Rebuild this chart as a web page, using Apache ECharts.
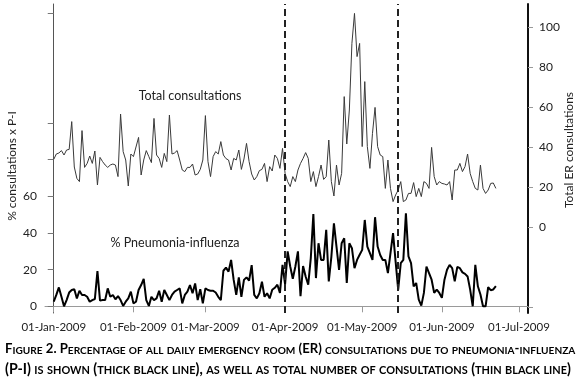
<!DOCTYPE html>
<html>
<head>
<meta charset="utf-8">
<script src="https://cdn.jsdelivr.net/npm/echarts@6/dist/echarts.min.js"></script>
<style>
  html, body { margin: 0; padding: 0; background: #fff; }
  #chart { width: 580px; height: 391px; }
</style>
</head>
<body>
<div id="chart"></div>
<script>
// days counted from 01-Jan-2009 (day 0 .. day 172 = 22-Jun-2009)
const tickDays = [0, 31, 59, 90, 120, 151, 181]
const tickLabels = ['01-Jan-2009', '01-Feb-2009', '01-Mar-2009', '01-Apr-2009', '01-May-2009', '01-Jun-2009', '01-Jul-2009']
const phaseDays = [90, 134]

// total ER consultations per day (thin line, right axis)
const totalConsult = [
  33.8, 36.5, 37, 38.2, 36, 38.5, 38.8, 52.7, 30, 24.3,
  22.7, 48.2, 29.8, 31.8, 35.5, 31.8, 38, 21, 34.8, 32.7,
  31, 29.8, 31, 31.5, 31, 25.2, 56.5, 37.7, 33.5, 20.5,
  36.5, 35.2, 40, 44.8, 26, 33.5, 38.2, 35.2, 32.2, 54.3,
  36, 34.3, 29.8, 36.8, 32.7, 56, 36.5, 37, 38.2, 33.5,
  28.5, 27.7, 29.8, 29.8, 31.5, 26, 26.5, 28.8, 33.5, 55.7,
  32.7, 25.2, 35.2, 37.7, 36.5, 42.7, 36, 34.2, 33.5, 28.5,
  34.3, 33.5, 38.5, 28.8, 34, 41.8, 32.7, 26.5, 23.5, 25.2,
  28.2, 28.8, 31.8, 22.7, 30.2, 28, 36, 34.3, 29.3, 39.3,
  26.8, 22.7, 20.2, 25.2, 22.7, 28.5, 31.8, 34.3, 37.2, 34.3,
  22.7, 27.7, 20.2, 25.2, 31, 23.8, 25.2, 43.5, 22.7, 15.5,
  31, 21, 26.8, 65.2, 41.5, 58.5, 91.8, 106.8, 85.2, 91.8,
  40.2, 72.7, 40.2, 29.3, 46.8, 59.8, 40.2, 36, 35.2, 19.3,
  33.5, 19.3, 12.7, 16, 18.5, 22.7, 12.7, 13.5, 16.8, 16.8,
  22.2, 15.2, 19.3, 15.2, 22.7, 21.8, 19.3, 39.8, 25.2, 21,
  22.7, 21.8, 21.5, 21, 22.7, 13.5, 28.5, 28.5, 31.8, 27.7,
  30.2, 36.5, 26.8, 22.7, 19.3, 18.5, 31, 19.3, 16.8, 18.5,
  21.8, 22, 19.3
]

// % of consultations due to pneumonia-influenza (thick line, left axis)
const pctPI = [
  2.5, 6.2, 10.3, 5.2, 0, 3.4, 7.5, 8.9, 9.3, 4.3,
  8.5, 6.2, 6.2, 5.2, 2.5, 3.4, 4, 19.2, 3.1, 3.4,
  3.4, 9.8, 5.2, 6.2, 3.8, 5.6, 3.4, 0.2, 2.5, 4.3,
  8, 1.6, 2.5, 8.9, 11.6, 14.9, 3.4, 0.2, 5.2, 3.4,
  4.3, 8.5, 2.5, 8.9, 6.2, 3.4, 6.2, 8, 8.9, 9.8,
  1.6, 6.2, 8, 11.6, 7.1, 12.5, 3.4, 9.3, 1.6, 9.8,
  8.9, 8.5, 8.5, 7.5, 5.2, 3.4, 19.4, 21.1, 18.9, 25.3,
  14.4, 6.2, 15.8, 5.2, 14.4, 15.8, 14, 22.5, 6.2, 4.3,
  7.1, 13.4, 5.2, 7.1, 4.3, 9, 10.1, 11.8, 7.3, 22.6,
  12, 30, 21.7, 15, 21.7, 30, 5.5, 22, 16.3, 11.8,
  26.3, 50.3, 15.4, 34.4, 25.3, 25.3, 41.7, 13.6, 27, 45.3,
  32.6, 19.9, 34.4, 37.1, 12.7, 34.4, 31.7, 20.8, 25.3, 28.1,
  30.8, 47.1, 32.6, 29, 25.3, 48.6, 32.6, 28, 25.3, 25.3,
  18.1, 29, 39.9, 24.4, 9.1, 23.5, 25.3, 50.7, 27.2, 23.5,
  10.9, 12.7, 3.6, 0.4, 7.3, 21.7, 18.1, 14.5, 7.3, 9.1,
  7.3, 4.6, 14.5, 19.9, 22.6, 20.8, 13.6, 21.5, 20.8, 18.5,
  17.7, 16.3, 9.1, 0, 22.6, 10.9, 6.4, 0, 0, 10.4,
  8.8, 9.2, 11
]

const leftTicks = [0, 20, 40, 60, 80, 100, 160]
const leftLabels = [0, 20, 40, 60]
const rightTicks = [-40, 0, 20, 40, 60, 80, 100]
const rightLabels = [0, 20, 40, 60, 80, 100]

const caption1 = 'Figure 2. Percentage of all daily emergency room (ER) consultations due to pneumonia-influenza'
const caption2 = '(P-I) is shown (thick black line), as well as total number of consultations (thin black line)'

const FONT = 'Lato, "DejaVu Sans", sans-serif'

// split into runs: lowercase letters become smaller capitals
function capRuns(str) {
  const runs = []
  for (const ch of str) {
    const st = (ch >= 'a' && ch <= 'z') ? 's' : 'b'
    const last = runs[runs.length - 1]
    if (last && last.st === st) last.txt += ch.toUpperCase()
    else runs.push({ st: st, txt: ch.toUpperCase() })
  }
  return runs
}

// size a caption line so it spans the given width (as in the printed figure)
const measureCtx = document.createElement('canvas').getContext('2d')
function captionLine(str, width, x, y) {
  const runs = capRuns(str)
  const B = 13, S = 10
  let w = 0
  for (const r of runs) {
    measureCtx.font = 'bold ' + (r.st === 'b' ? B : S) + 'px ' + FONT
    w += measureCtx.measureText(r.txt).width
  }
  const k = width / w
  return {
    type: 'text', x: x, y: y,
    style: {
      text: runs.map(r => '{' + r.st + '|' + r.txt + '}').join(''),
      rich: {
        b: { fontFamily: FONT, fontWeight: 'bold', fontSize: B * k, color: '#383838', verticalAlign: 'bottom' },
        s: { fontFamily: FONT, fontWeight: 'bold', fontSize: S * k, color: '#383838', verticalAlign: 'bottom' }
      },
      align: 'left',
      verticalAlign: 'middle'
    }
  }
}

const chart = echarts.init(document.getElementById('chart'), null, { renderer: 'canvas' })

const option = {
  animation: false,
  backgroundColor: '#fff',
  grid: { left: 45, right: 52, top: 4, bottom: 78, containLabel: false },
  xAxis: {
    type: 'value',
    min: -3.4,
    max: 184.5,
    splitLine: { show: false },
    axisLine: { show: true, lineStyle: { color: '#9a9a9a', width: 1 } },
    axisTick: { show: true, length: 6, customValues: tickDays, lineStyle: { color: '#9a9a9a' } },
    axisLabel: {
      customValues: tickDays,
      margin: 8,
      fontFamily: FONT,
      fontSize: 11.5,
      color: '#222',
      formatter: function (v) {
        const i = tickDays.indexOf(Math.round(v))
        return i >= 0 ? tickLabels[i] : ''
      }
    }
  },
  yAxis: [
    {
      type: 'value',
      position: 'left',
      min: -3.65,
      max: 164.9,
      splitLine: { show: false },
      axisLine: { show: true, lineStyle: { color: '#555', width: 1 } },
      axisTick: { show: true, length: 6, customValues: leftTicks, lineStyle: { color: '#777' } },
      axisLabel: { customValues: leftLabels, margin: 8, fontFamily: FONT, fontSize: 12, color: '#222' }
    },
    {
      type: 'value',
      position: 'right',
      min: -43,
      max: 111.5,
      splitLine: { show: false },
      axisLine: { show: true, lineStyle: { color: '#111', width: 2 } },
      axisTick: { show: true, length: 5, customValues: rightTicks, lineStyle: { color: '#999' } },
      axisLabel: { customValues: rightLabels, margin: 11, fontFamily: FONT, fontSize: 12, color: '#222' }
    }
  ],
  series: [
    {
      name: 'Total consultations',
      type: 'line',
      yAxisIndex: 1,
      data: totalConsult.map((v, i) => [i, v]),
      showSymbol: false,
      lineStyle: { color: '#3a3a3a', width: 1 },
      markLine: {
        silent: true,
        symbol: 'none',
        label: { show: false },
        lineStyle: { color: '#222', width: 2, type: [7, 4] },
        data: phaseDays.map(d => ({ xAxis: d }))
      }
    },
    {
      name: '% Pneumonia-influenza',
      type: 'line',
      yAxisIndex: 0,
      data: pctPI.map((v, i) => [i, v]),
      showSymbol: false,
      lineStyle: { color: '#000', width: 2 }
    }
  ],
  graphic: [
    {
      type: 'text', x: 12, y: 166, rotation: Math.PI / 2,
      style: { text: '% consultations x P-I', font: '12px ' + FONT, fill: '#222', align: 'center', verticalAlign: 'middle' }
    },
    {
      type: 'text', x: 569, y: 150, rotation: Math.PI / 2,
      style: { text: 'Total ER consultations', font: '12px ' + FONT, fill: '#222', align: 'center', verticalAlign: 'middle' }
    },
    {
      type: 'text', x: 190, y: 96,
      style: { text: 'Total consultations', font: '12.5px ' + FONT, fill: '#222', align: 'center', verticalAlign: 'middle' }
    },
    {
      type: 'text', x: 175, y: 243,
      style: { text: '% Pneumonia-influenza', font: '12.5px ' + FONT, fill: '#222', align: 'center', verticalAlign: 'middle' }
    },
    captionLine(caption1, 571, 5, 349),
    captionLine(caption2, 567, 5, 369)
  ]
}

chart.setOption(option)
</script>
</body>
</html>
